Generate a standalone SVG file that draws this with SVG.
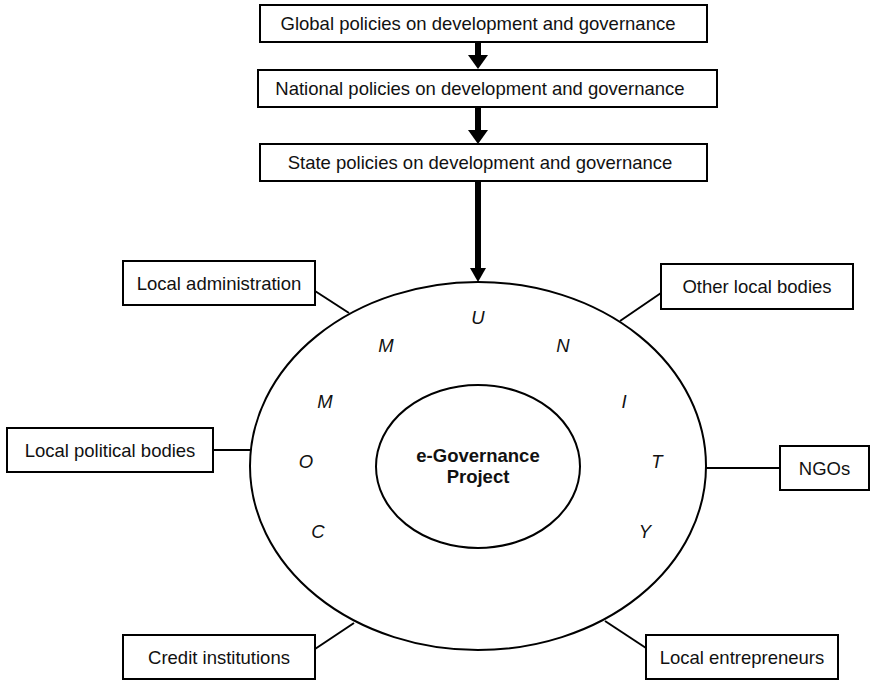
<svg xmlns="http://www.w3.org/2000/svg" width="872" height="681" viewBox="0 0 872 681">
<style>
.box{fill:#fff;stroke:#000;stroke-width:2}
.t{font-family:"Liberation Sans",Arial,sans-serif;font-size:18.5px;fill:#111;text-anchor:middle}
.b{font-weight:bold}
.l{font-family:"Liberation Sans",Arial,sans-serif;font-size:18.5px;font-style:italic;fill:#111;text-anchor:middle}
.ell{fill:none;stroke:#000;stroke-width:2}
.c{stroke:#000;stroke-width:2;fill:none}
.shaft{stroke:#000;stroke-width:6;fill:none}
.head{fill:#000}
</style>
<rect width="872" height="681" fill="#fff"/>
<g id="global"><rect class="box" x="260" y="5" width="447" height="37"/><text class="t" x="478" y="30">Global policies on development and governance</text></g>
<g id="national"><rect class="box" x="258" y="70" width="459" height="37"/><text class="t" x="480" y="95">National policies on development and governance</text></g>
<g id="state"><rect class="box" x="260" y="144" width="447" height="37"/><text class="t" x="480" y="169">State policies on development and governance</text></g>
<g id="community">
<ellipse class="ell" cx="478" cy="466" rx="228" ry="184"/>
<text class="l" x="478" y="324">U</text>
<text class="l" x="386" y="352">M</text>
<text class="l" x="563" y="352">N</text>
<text class="l" x="325" y="408">M</text>
<text class="l" x="624" y="408">I</text>
<text class="l" x="306" y="468">O</text>
<text class="l" x="657" y="468">T</text>
<text class="l" x="318" y="538">C</text>
<text class="l" x="645" y="538">Y</text>
</g>
<g id="project"><ellipse class="ell" cx="478" cy="466.5" rx="102" ry="81.5"/><text class="t b" x="478" y="462">e-Governance</text><text class="t b" x="478" y="483">Project</text></g>
<g id="local-administration"><rect class="box" x="123" y="261" width="192" height="44"/><text class="t" x="219" y="289.5">Local administration</text></g>
<g id="other-local-bodies"><rect class="box" x="661" y="264" width="192" height="45"/><text class="t" x="757" y="293">Other local bodies</text></g>
<g id="local-political-bodies"><rect class="box" x="7" y="428" width="206" height="44"/><text class="t" x="110" y="456.5">Local political bodies</text></g>
<g id="ngos"><rect class="box" x="780" y="446" width="89" height="44"/><text class="t" x="824.5" y="474.5">NGOs</text></g>
<g id="credit-institutions"><rect class="box" x="123" y="635" width="192" height="44"/><text class="t" x="219" y="663.5">Credit institutions</text></g>
<g id="local-entrepreneurs"><rect class="box" x="646" y="635" width="192" height="44"/><text class="t" x="742" y="663.5">Local entrepreneurs</text></g>
<g id="connectors">
<line class="shaft" x1="478" y1="42" x2="478" y2="56"/><polygon class="head" points="468,55 488,55 478,69"/>
<line class="shaft" x1="478" y1="107" x2="478" y2="131"/><polygon class="head" points="468,130 488,130 478,144"/>
<line class="shaft" x1="478" y1="181" x2="478" y2="269"/><polygon class="head" points="470,268 486,268 478,282"/>
<line class="c" x1="315" y1="291" x2="349" y2="313"/>
<line class="c" x1="661" y1="293" x2="620" y2="321"/>
<line class="c" x1="213" y1="450" x2="251" y2="450"/>
<line class="c" x1="706" y1="468" x2="780" y2="468"/>
<line class="c" x1="315" y1="649" x2="354" y2="623"/>
<line class="c" x1="605" y1="621" x2="646" y2="648"/>
</g>
</svg>
